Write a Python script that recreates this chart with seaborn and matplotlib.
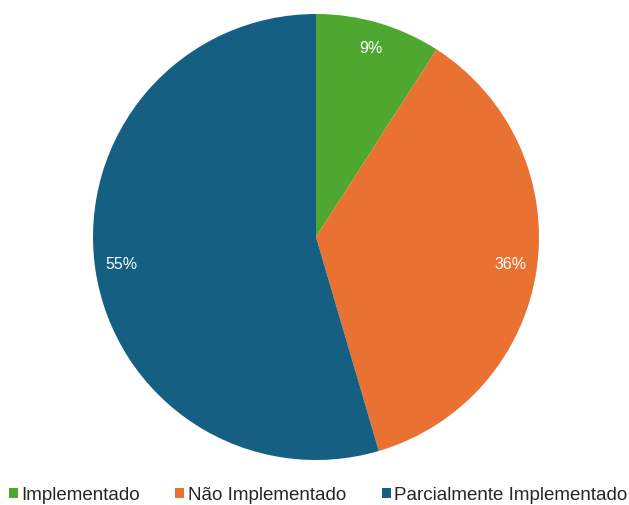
import matplotlib
matplotlib.use("Agg")
import matplotlib.pyplot as plt
import seaborn as sns

categories = ["Implementado", "Não Implementado", "Parcialmente Implementado"]
counts = [1, 4, 6]
colors = ["#4EA72E", "#E97132", "#156082"]

sns.set_theme(style="white")
plt.rcParams["font.family"] = ["Liberation Sans", "DejaVu Sans"]

fig = plt.figure(figsize=(6.29, 5.05), dpi=100)
ax = fig.add_axes([93 / 629, 45 / 505, 446 / 629, 446 / 505])

wedges, _, autotexts = ax.pie(
    counts,
    colors=sns.color_palette(colors),
    startangle=90,
    counterclock=False,
    autopct="%.0f%%",
    pctdistance=0.88,
    radius=1.0,
    wedgeprops=dict(linewidth=0),
    textprops=dict(color="white", fontsize=11.5),
)
ax.set_xlim(-1, 1)
ax.set_ylim(-1, 1)
ax.set_aspect("equal")
ax.axis("off")

fig.legend(
    wedges,
    categories,
    loc="center",
    bbox_to_anchor=(318 / 629, 1 - 495 / 505),
    ncol=3,
    frameon=False,
    fontsize=13.5,
    handlelength=0.48,
    handleheight=0.48,
    handletextpad=0.18,
    columnspacing=1.9,
    borderpad=0.0,
    borderaxespad=0.0,
    labelcolor="#262626",
)

fig.savefig("out.png", dpi=100)
